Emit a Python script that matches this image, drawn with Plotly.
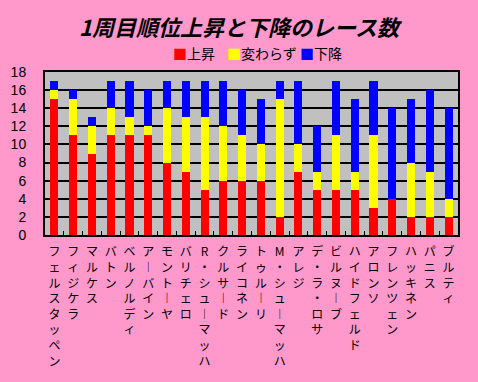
import plotly.graph_objects as go

drivers = ["フェルスタッペン", "フィジケラ", "マルケス", "バトン", "ベルノルディ", "アーバイン",
           "モントーヤ", "バリチェロ", "R・シューマッハ", "クルサード", "ライコネン", "トゥルーリ",
           "M・シューマッハ", "アレジ", "デ・ラ・ロサ", "ビルヌーブ", "ハイドフェルド", "アロンソ",
           "フレンツェン", "ハッキネン", "パニス", "ブルティ"]
up = [15, 11, 9, 11, 11, 11, 8, 7, 5, 6, 6, 6, 2, 7, 5, 5, 5, 3, 4, 2, 2, 2]
same = [1, 4, 3, 3, 2, 1, 6, 6, 8, 6, 5, 4, 13, 3, 2, 6, 2, 8, 0, 6, 5, 2]
down = [1, 1, 1, 3, 4, 4, 3, 4, 4, 5, 5, 5, 2, 7, 5, 6, 8, 6, 10, 7, 9, 10]
y_ticks = [0, 2, 4, 6, 8, 10, 12, 14, 16, 18]
title = "1周目順位上昇と下降のレース数"
series_names = ["上昇", "変わらず", "下降"]
colors = ["#FF0000", "#FFFF00", "#0000FF"]


def vertical(s):
    return "<br>".join("︱" if c == "ー" else c for c in s)


tick_text = [vertical(d) for d in drivers]

fig = go.Figure()
for name, vals, col in zip(series_names, [up, same, down], colors):
    fig.add_trace(go.Bar(x=drivers, y=vals, name=name, showlegend=False,
                         marker=dict(color=col, line=dict(width=0))))

# legend drawn as text annotations (compact, like the reference)
legend_x = [0.305, 0.437, 0.613]
for name, col, lx in zip(series_names, colors, legend_x):
    fig.add_annotation(
        xref="paper", yref="paper", x=lx, y=1.117, xanchor="left", yanchor="middle",
        showarrow=False,
        text=f'<span style="color:{col}">■</span>{name}',
        font=dict(family="Noto Sans CJK JP", size=14, color="black"),
    )

fig.update_layout(
    barmode="stack",
    bargap=0.57,
    width=478, height=382,
    paper_bgcolor="#FF99CC",
    plot_bgcolor="#C0C0C0",
    margin=dict(l=45, r=20, t=72, b=147, autoexpand=False),
    title=dict(text="<b><i>" + title + "</i></b>", x=0.5, xanchor="center", y=0.925, yanchor="middle",
               font=dict(family="Noto Sans CJK JP", size=22, color="black")),
    showlegend=False,
    font=dict(family="Noto Sans CJK JP", color="black"),
)
fig.update_xaxes(
    tickmode="array", tickvals=drivers, ticktext=tick_text,
    tickangle=0, tickfont=dict(family="Noto Sans CJK JP", size=12, color="black"),
    showline=True, linecolor="black", linewidth=2, mirror=True,
    ticks="inside", tickson="boundaries", ticklen=4, tickcolor="black",
    showgrid=False, ticklabelstandoff=5, automargin=False,
)
fig.update_yaxes(
    range=[0, 18], tickmode="array", tickvals=y_ticks,
    tickfont=dict(family="Liberation Sans", size=14, color="black"),
    showline=True, linecolor="black", linewidth=2, mirror=True,
    showgrid=True, gridcolor="black", gridwidth=1.5,
    ticks="", ticklabelstandoff=14, zeroline=False, automargin=False,
)
fig.write_html("out.html", config={"displayModeBar": False},
               post_script="document.body.style.margin='0';document.body.style.background='#FF99CC';")
